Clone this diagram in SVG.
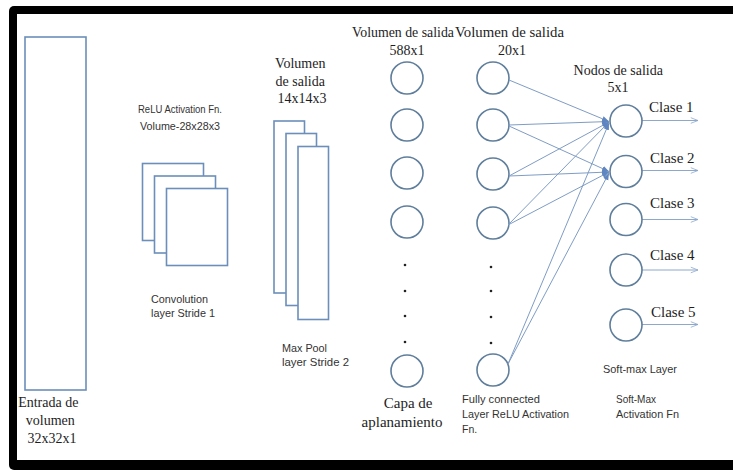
<svg xmlns="http://www.w3.org/2000/svg" width="733" height="472" viewBox="0 0 733 472">
  <defs>
    <style>
      .box { fill: #ffffff; stroke: #6b8fba; stroke-width: 1.6; }
      .node { fill: #ffffff; stroke: #5f7e9c; stroke-width: 1.6; }
      .edge { stroke: #7f9cc4; stroke-width: 1; fill: none; }
      .out { stroke: #8ea8cb; stroke-width: 1; fill: none; }
      .serif { font-family: "Liberation Serif", "Times New Roman", serif; fill: #1e1e1e; }
      .sans { font-family: "Liberation Sans", Arial, sans-serif; fill: #333333; font-size: 10.5px; }
      .dot { fill: #222; }
    </style>
    <marker id="tip" viewBox="0 0 10 10" refX="10" refY="5" markerWidth="7" markerHeight="7" orient="auto" markerUnits="userSpaceOnUse">
      <path d="M0,1 L10,5 L0,9 Z" fill="#5f86c0"/>
    </marker>
    <marker id="open" viewBox="0 0 10 10" refX="10" refY="5" markerWidth="8" markerHeight="8" orient="auto" markerUnits="userSpaceOnUse">
      <path d="M1,1.5 L10,5 L1,8.5" fill="none" stroke="#8ea8cb" stroke-width="1"/>
    </marker>
  </defs>

  <rect width="733" height="472" fill="#ffffff"/>

  <!-- frame, open on the right -->
  <rect x="9" y="6" width="740" height="464" rx="5" fill="#000000"/>
  <rect x="17" y="14" width="740" height="446" fill="#ffffff"/>

  <!-- input volume -->
  <g id="input">
    <rect class="box" x="25" y="37" width="61" height="353"/>
    <text class="serif" font-size="14" text-anchor="middle">
      <tspan x="50" y="407">Entrada de</tspan>
      <tspan x="52" y="425">volumen</tspan>
      <tspan x="52" y="443">32x32x1</tspan>
    </text>
  </g>

  <!-- convolution layer -->
  <g id="conv">
    <text class="sans">
      <tspan x="138" y="113" textLength="84" lengthAdjust="spacingAndGlyphs">ReLU Activation Fn.</tspan>
      <tspan x="140" y="130" textLength="80" lengthAdjust="spacingAndGlyphs">Volume-28x28x3</tspan>
    </text>
    <rect class="box" x="142.5" y="163.5" width="61" height="77"/>
    <rect class="box" x="154.5" y="176" width="61" height="77"/>
    <rect class="box" x="166.5" y="188.5" width="61" height="77"/>
    <text class="sans">
      <tspan x="151" y="303" textLength="57" lengthAdjust="spacingAndGlyphs">Convolution</tspan>
      <tspan x="151" y="317" textLength="64" lengthAdjust="spacingAndGlyphs">layer Stride 1</tspan>
    </text>
  </g>

  <!-- max pool layer -->
  <g id="pool">
    <text class="serif" font-size="14" text-anchor="middle">
      <tspan x="302" y="68">Volumen</tspan>
      <tspan x="302" y="86">de salida</tspan>
      <tspan x="302" y="103">14x14x3</tspan>
    </text>
    <rect class="box" x="274" y="121" width="30.5" height="172"/>
    <rect class="box" x="286" y="133.5" width="30.5" height="172"/>
    <rect class="box" x="298" y="146.5" width="30.5" height="173"/>
    <text class="sans">
      <tspan x="282" y="352" textLength="45" lengthAdjust="spacingAndGlyphs">Max Pool</tspan>
      <tspan x="282" y="366" textLength="67" lengthAdjust="spacingAndGlyphs">layer Stride  2</tspan>
    </text>
  </g>

  <!-- flatten layer -->
  <g id="flatten">
    <text class="serif" font-size="14" x="352" y="37" textLength="102" lengthAdjust="spacingAndGlyphs">Volumen de salida</text>
    <text class="serif" font-size="14" x="407" y="55" text-anchor="middle">588x1</text>
    <circle class="node" cx="407" cy="78" r="16"/>
    <circle class="node" cx="407" cy="125" r="16"/>
    <circle class="node" cx="407" cy="173" r="16"/>
    <circle class="node" cx="407" cy="222" r="16"/>
    <circle class="dot" cx="405" cy="265" r="1.3"/>
    <circle class="dot" cx="405" cy="291" r="1.3"/>
    <circle class="dot" cx="405" cy="316" r="1.3"/>
    <circle class="dot" cx="405" cy="342" r="1.3"/>
    <circle class="node" cx="407" cy="371" r="16"/>
    <text class="serif" font-size="15" text-anchor="middle">
      <tspan x="410" y="408">Capa de</tspan>
      <tspan x="402" y="427">aplanamiento</tspan>
    </text>
  </g>

  <!-- fully connected layer -->
  <g id="dense">
    <text class="serif" font-size="14" x="455" y="37" textLength="109" lengthAdjust="spacingAndGlyphs">Volumen de salida</text>
    <text class="serif" font-size="14" x="512" y="55" text-anchor="middle">20x1</text>
    <circle class="node" cx="493" cy="78" r="16"/>
    <circle class="node" cx="493" cy="125" r="16"/>
    <circle class="node" cx="493" cy="174" r="16"/>
    <circle class="node" cx="493" cy="223" r="16"/>
    <circle class="dot" cx="491" cy="267" r="1.3"/>
    <circle class="dot" cx="491" cy="291" r="1.3"/>
    <circle class="dot" cx="491" cy="317" r="1.3"/>
    <circle class="dot" cx="491" cy="343" r="1.3"/>
    <circle class="node" cx="493" cy="370" r="16"/>
    <text class="sans">
      <tspan x="462" y="403" textLength="78" lengthAdjust="spacingAndGlyphs">Fully connected</tspan>
      <tspan x="462" y="418" textLength="107" lengthAdjust="spacingAndGlyphs">Layer ReLU Activation</tspan>
      <tspan x="462" y="433">Fn.</tspan>
    </text>
  </g>

  <!-- connectors -->
  <g id="connectors">
    <line class="edge" x1="509" y1="80" x2="609" y2="121.5" marker-end="url(#tip)"/>
    <line class="edge" x1="509" y1="125" x2="609" y2="121.5" marker-end="url(#tip)"/>
    <line class="edge" x1="509" y1="126" x2="609" y2="171.5" marker-end="url(#tip)"/>
    <line class="edge" x1="509" y1="176" x2="609" y2="122" marker-end="url(#tip)"/>
    <line class="edge" x1="509" y1="176" x2="609" y2="172" marker-end="url(#tip)"/>
    <line class="edge" x1="508" y1="225" x2="609" y2="122" marker-end="url(#tip)"/>
    <line class="edge" x1="508" y1="225" x2="609" y2="172" marker-end="url(#tip)"/>
    <line class="edge" x1="508" y1="364" x2="609" y2="123" marker-end="url(#tip)"/>
    <line class="edge" x1="508" y1="364" x2="609" y2="173" marker-end="url(#tip)"/>
    <line class="out" x1="642" y1="120.5" x2="698" y2="120.5" marker-end="url(#open)"/>
    <line class="out" x1="642" y1="170.5" x2="698" y2="170.5" marker-end="url(#open)"/>
    <line class="out" x1="642" y1="219.5" x2="698" y2="219.5" marker-end="url(#open)"/>
    <line class="out" x1="642" y1="270" x2="698" y2="270" marker-end="url(#open)"/>
    <line class="out" x1="642" y1="324.5" x2="698" y2="324.5" marker-end="url(#open)"/>
  </g>

  <!-- softmax output layer -->
  <g id="softmax">
    <text class="serif" font-size="14" text-anchor="middle">
      <tspan x="620" y="75">Nodos de salida</tspan>
      <tspan x="618" y="92">5x1</tspan>
    </text>
    <circle class="node" cx="626" cy="121" r="16"/>
    <circle class="node" cx="626" cy="171.5" r="16"/>
    <circle class="node" cx="626" cy="219.5" r="16"/>
    <circle class="node" cx="626" cy="270" r="16"/>
    <circle class="node" cx="626" cy="325" r="16"/>
    <text class="serif" font-size="15" x="649" y="112">Clase 1</text>
    <text class="serif" font-size="15" x="650" y="163">Clase 2</text>
    <text class="serif" font-size="15" x="650" y="208">Clase 3</text>
    <text class="serif" font-size="15" x="650" y="260">Clase 4</text>
    <text class="serif" font-size="15" x="651" y="317">Clase 5</text>
    <text class="sans" x="603" y="373" textLength="74" lengthAdjust="spacingAndGlyphs">Soft-max Layer</text>
    <text class="sans">
      <tspan x="616" y="403" textLength="40" lengthAdjust="spacingAndGlyphs">Soft-Max</tspan>
      <tspan x="616" y="418" textLength="63" lengthAdjust="spacingAndGlyphs">Activation Fn</tspan>
    </text>
  </g>
</svg>
